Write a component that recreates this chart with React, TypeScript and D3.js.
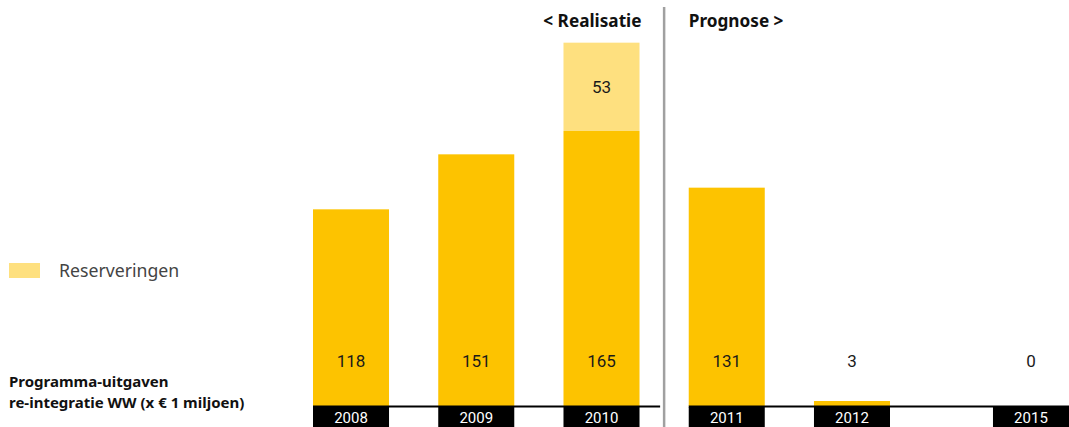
import React from "react";
import * as d3 from "d3";

const categories = ["2008", "2009", "2010", "2011", "2012", "2015"];
const realized = [118, 151, 165, 131, 3, 0];
const reservations = [0, 0, 53, 0, 0, 0];
const realisatieYears = ["2008", "2009", "2010"];
const headerLeft = "< Realisatie";
const headerRight = "Prognose >";
const legendLabel = "Reserveringen";
const titleLines = ["Programma-uitgaven", "re-integratie WW (x € 1 miljoen)"];

const W = 1069;
const H = 427;
const YELLOW = "#FDC300";
const LIGHT = "#FEE07F";
const FONT = "'Noto Sans', sans-serif";
const NUMFONT = "Roboto, sans-serif";

export default function App() {
  const baseY = 406;
  const bandCats = categories.slice(0, 5);
  const x = d3.scaleBand<string>().domain(bandCats).range([313, 890]).paddingInner(0.393).paddingOuter(0);
  const bw = x.bandwidth();
  const xPos = (c: string) => (bandCats.includes(c) ? (x(c) as number) : W - bw);
  const y = d3.scaleLinear().domain([0, 165]).range([baseY, 131]);

  const lastReal = realisatieYears[realisatieYears.length - 1];
  const firstProg = categories[realisatieYears.length];
  const sepX = ((xPos(lastReal) + bw) + xPos(firstProg)) / 2;

  return (
    <svg width={W} height={H} style={{ position: "absolute", left: 0, top: 0, fontFamily: FONT }}>
      <rect x={0} y={0} width={W} height={H} fill="#fff" />
      <line x1={sepX} x2={sepX} y1={7} y2={H} stroke="#a0a0a0" strokeWidth={2.5} />
      <text x={xPos(lastReal) + bw + 2} y={27} textAnchor="end" fontSize={17.2} fontWeight={700} fill="#111">
        {headerLeft}
      </text>
      <text x={xPos(firstProg)} y={27} fontSize={17.2} fontWeight={700} fill="#111">
        {headerRight}
      </text>
      {categories.map((c, i) => {
        const x0 = xPos(c);
        const r = realized[i];
        const res = reservations[i];
        return (
          <g key={c}>
            {r > 0 && <rect x={x0} y={y(r)} width={bw} height={baseY - y(r)} fill={YELLOW} />}
            {res > 0 && (
              <rect x={x0} y={y(r + res)} width={bw} height={y(r) - y(r + res)} fill={LIGHT} />
            )}
            {res > 0 && (
              <text x={x0 + bw / 2} y={(y(r + res) + y(r)) / 2 + 6} textAnchor="middle" fontSize={17} fill="#1a1a1a" fontFamily={NUMFONT}>
                {res}
              </text>
            )}
            <text x={x0 + bw / 2} y={367} textAnchor="middle" fontSize={17} fill="#1a1a1a" fontFamily={NUMFONT}>
              {r}
            </text>
            <rect x={x0} y={407} width={bw} height={H - 407} fill="#000" />
            <text x={x0 + bw / 2} y={423} textAnchor="middle" fontSize={15} fill="#fff" fontFamily={NUMFONT}>
              {c}
            </text>
          </g>
        );
      })}
      <line x1={xPos(categories[0])} x2={sepX - 4} y1={baseY + 0.5} y2={baseY + 0.5} stroke="#000" strokeWidth={2} />
      <line x1={xPos(firstProg)} x2={W} y1={baseY + 0.5} y2={baseY + 0.5} stroke="#000" strokeWidth={2} />
      <rect x={9} y={263} width={31} height={15} fill={LIGHT} />
      <text x={59} y={277} fontSize={17.7} fill="#444">
        {legendLabel}
      </text>
      {titleLines.map((t, i) => (
        <text key={i} x={9} y={387 + i * 21} fontSize={15} fontWeight={700} fill="#111">
          {t}
        </text>
      ))}
    </svg>
  );
}
